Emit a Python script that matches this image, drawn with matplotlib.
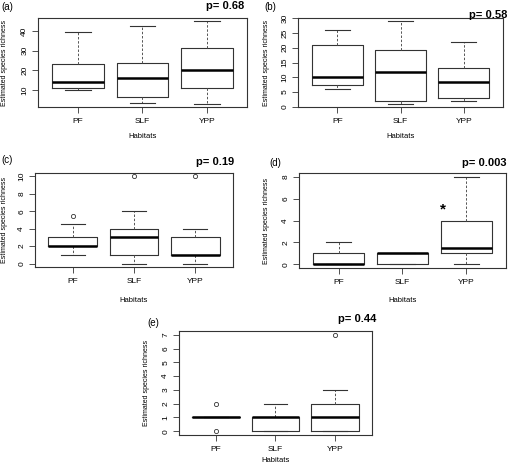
import matplotlib
matplotlib.use("Agg")
import matplotlib.pyplot as plt

W, H = 510, 466

habitats = ["PF", "SLF", "YPP"]

# per panel: whisker low, Q1, median, Q3, whisker high, outliers (PF, SLF, YPP)
a_lo = [10, 3.5, 3]
a_q1 = [11, 6.3, 11]
a_med = [14, 16.3, 20]
a_q3 = [23.3, 24, 31.5]
a_hi = [39.5, 42.5, 45]
a_out = [[], [], []]

b_lo = [6, 1, 2]
b_q1 = [7.2, 2, 3]
b_med = [10, 11.7, 8.5]
b_q3 = [21, 19.2, 13]
b_hi = [26, 29, 22]
b_out = [[], [], []]

c_lo = [1, 0, 0]
c_q1 = [2, 1, 1]
c_med = [2, 3, 1]
c_q3 = [3, 4, 3]
c_hi = [4.5, 6, 4]
c_out = [[5.5], [10], [10]]

d_lo = [0, 0, 0]
d_q1 = [0, 0, 1]
d_med = [0, 1, 1.5]
d_q3 = [1, 1, 4]
d_hi = [2, 1, 8]
d_out = [[], [], []]

e_lo = [1, 0, 0]
e_q1 = [1, 0, 0]
e_med = [1, 1, 1]
e_q3 = [1, 1, 2]
e_hi = [1, 2, 3]
e_out = [[0, 2], [], [7]]

panels = [
    ("(a)", "p= 0.68", a_lo, a_q1, a_med, a_q3, a_hi, a_out, [10, 20, 30, 40]),
    ("(b)", "p= 0.58", b_lo, b_q1, b_med, b_q3, b_hi, b_out, [0, 5, 10, 15, 20, 25, 30]),
    ("(c)", "p= 0.19", c_lo, c_q1, c_med, c_q3, c_hi, c_out, [0, 2, 4, 6, 8, 10]),
    ("(d)", "p= 0.003", d_lo, d_q1, d_med, d_q3, d_hi, d_out, [0, 2, 4, 6, 8]),
    ("(e)", "p= 0.44", e_lo, e_q1, e_med, e_q3, e_hi, e_out, [0, 1, 2, 3, 4, 5, 6, 7]),
]

# pixel layout: axes box (left, top, right, bottom), tag pos, p-value pos (right edge), ylabel x, xlabel y
layout = [
    dict(box=(38, 18, 247, 107), tag=(1, 7), pval=(244, 6), ylab=5, xlab=137),
    dict(box=(298, 18, 503, 107), tag=(264, 7), pval=(507, 15), ylab=267, xlab=137),
    dict(box=(35, 173, 233, 267), tag=(1, 160), pval=(234, 162), ylab=5, xlab=300),
    dict(box=(299, 173, 506, 268), tag=(269, 163), pval=(507, 163), ylab=267, xlab=300),
    dict(box=(179, 331, 372, 435), tag=(147, 323), pval=(376, 319), ylab=147, xlab=460),
]

plt.rcParams["font.family"] = ["Liberation Sans", "DejaVu Sans"]

fig = plt.figure(figsize=(W / 100, H / 100), dpi=100)
edge = "#333333"

for (tag, pval, lo, q1, med, q3, hi, out, yticks), lay in zip(panels, layout):
    l, t, r, b = lay["box"]
    ax = fig.add_axes([l / W, 1 - b / H, (r - l) / W, (b - t) / H])

    stats = []
    for i, name in enumerate(habitats):
        stats.append(dict(label=name, whislo=lo[i], q1=q1[i], med=med[i],
                          q3=q3[i], whishi=hi[i], fliers=out[i]))
    ax.bxp(stats, positions=[1, 2, 3], widths=0.8, capwidths=0.4,
           boxprops=dict(color=edge, linewidth=0.8),
           whiskerprops=dict(color="#555555", linewidth=0.7, linestyle=(0, (2.5, 1.8))),
           capprops=dict(color=edge, linewidth=0.8),
           medianprops=dict(color="black", linewidth=1.8, solid_capstyle="butt"),
           flierprops=dict(marker="o", markersize=3, markerfacecolor="none",
                           markeredgecolor=edge, markeredgewidth=0.6))

    vals = lo + hi + [v for o in out for v in o]
    vmin, vmax = min(vals), max(vals)
    pad = 0.04 * (vmax - vmin)
    ax.set_ylim(vmin - pad, vmax + pad)
    ax.set_xlim(0.38, 3.62)
    ax.set_yticks(yticks)
    ax.set_yticklabels([str(v) for v in yticks], rotation=90, va="center")
    ax.tick_params(axis="both", labelsize=6, length=4, width=0.6, color=edge, pad=3)
    ax.tick_params(axis="x", pad=4)
    for s in ax.spines.values():
        s.set_linewidth(0.8)
        s.set_color(edge)

    fig.text(lay["tag"][0] / W, 1 - lay["tag"][1] / H, tag, fontsize=7, va="center", ha="left")
    fig.text(lay["pval"][0] / W, 1 - lay["pval"][1] / H, pval, fontsize=8,
             fontweight="bold", va="center", ha="right")
    fig.text(lay["ylab"] / W, 1 - ((t + b) / 2) / H, "Estimated species richness",
             fontsize=5, rotation=90, va="center", ha="center")
    fig.text(((l + r) / 2) / W, 1 - lay["xlab"] / H, "Habitats", fontsize=5.5,
             va="center", ha="center")

    if tag == "(d)":
        ax.text(2.64, 5.0, "*", fontsize=11, fontweight="bold", ha="center", va="center")

fig.savefig("out.png", dpi=100)
